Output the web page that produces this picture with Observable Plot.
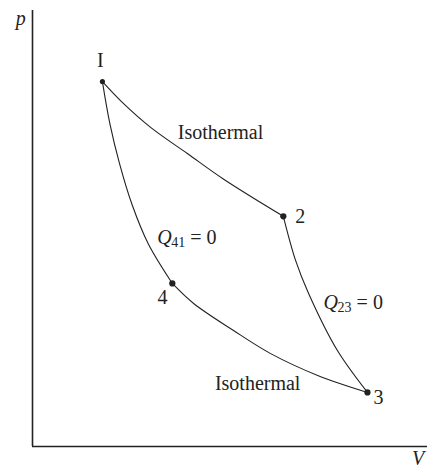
<!DOCTYPE html>
<html>
<head>
<meta charset="utf-8">
<script src="https://cdn.jsdelivr.net/npm/d3@7"></script>
<script src="https://cdn.jsdelivr.net/npm/@observablehq/plot@0.6"></script>
<style>
  html, body { margin: 0; padding: 0; background: #fff; }
</style>
</head>
<body>
<div id="chart"></div>
<script>
// Arbitrary units: V 0..100, p 0..100
const upperIsothermal = [
  {V: 17.7, p: 83.7}, {V: 23.0, p: 78.7}, {V: 29.9, p: 73.2},
  {V: 39.2, p: 67.2}, {V: 48.4, p: 61.3}, {V: 63.5, p: 52.8}
];
const adiabat41 = [
  {V: 17.7, p: 83.7}, {V: 19.6, p: 74.0}, {V: 22.0, p: 65.0},
  {V: 25.2, p: 55.5}, {V: 29.3, p: 46.5}, {V: 35.4, p: 37.4}
];
const adiabat23 = [
  {V: 63.5, p: 52.8}, {V: 66.6, p: 42.7}, {V: 69.9, p: 35.1},
  {V: 77.2, p: 22.0}, {V: 84.8, p: 12.4}
];
const lowerIsothermal = [
  {V: 35.4, p: 37.4}, {V: 40.8, p: 32.8}, {V: 50.9, p: 26.6},
  {V: 60.3, p: 21.3}, {V: 72.2, p: 16.3}, {V: 84.8, p: 12.4}
];
const statePoints = [
  {name: "I", V: 17.7, p: 83.7, r: 1.5},
  {name: "2", V: 63.5, p: 52.8, r: 2.2},
  {name: "3", V: 84.8, p: 12.4, r: 2.2},
  {name: "4", V: 35.4, p: 37.4, r: 2.2}
];
const pointLabels = [
  {text: "I", V: 17.2, p: 88.5},
  {text: "2", V: 67.8, p: 52.8},
  {text: "3", V: 87.6, p: 11.2},
  {text: "4", V: 32.9, p: 34.2}
];
const processLabels = [
  {text: "Isothermal", V: 47.6, p: 72.0},
  {text: "Isothermal", V: 57.0, p: 14.4}
];
// Q_ij = 0 labels: letter, subscript, rest
const heatLabels = [
  {q: "Q", sub: "41", rest: "= 0", V: 31.6, p: 47.9},
  {q: "Q", sub: "23", rest: "= 0", V: 73.7, p: 33.0}
];
const axisLabels = [
  {text: "p", V: -3.0, p: 98.2},
  {text: "V", V: 97.6, p: -2.8}
];

const ink = "#222";
const font = "Liberation Serif, Times New Roman, serif";

const chart = Plot.plot({
  width: 427,
  height: 470,
  marginLeft: 32,
  marginRight: 0,
  marginTop: 10,
  marginBottom: 24,
  x: {domain: [0, 100], axis: null},
  y: {domain: [0, 100], axis: null},
  style: {fontFamily: font, background: "#fff"},
  marks: [
    Plot.ruleX([0], {y1: 0, y2: 100, stroke: ink, strokeWidth: 1.6}),
    Plot.ruleY([0], {x1: 0, x2: 100, stroke: ink, strokeWidth: 1.6}),
    Plot.line(upperIsothermal, {x: "V", y: "p", curve: "catmull-rom", stroke: ink, strokeWidth: 1.1}),
    Plot.line(adiabat41, {x: "V", y: "p", curve: "catmull-rom", stroke: ink, strokeWidth: 1.1}),
    Plot.line(adiabat23, {x: "V", y: "p", curve: "catmull-rom", stroke: ink, strokeWidth: 1.1}),
    Plot.line(lowerIsothermal, {x: "V", y: "p", curve: "catmull-rom", stroke: ink, strokeWidth: 1.1}),
    Plot.dot(statePoints, {x: "V", y: "p", r: "r", fill: ink, stroke: null}),
    Plot.text(pointLabels, {x: "V", y: "p", text: "text", fontSize: 20, fill: ink}),
    Plot.text(processLabels, {x: "V", y: "p", text: "text", fontSize: 20, fill: ink}),
    Plot.text(heatLabels, {x: "V", y: "p", text: "q", fontSize: 20, fontStyle: "italic", textAnchor: "start", fill: ink}),
    Plot.text(heatLabels, {x: "V", y: "p", text: "sub", fontSize: 14, textAnchor: "start", dx: 14, dy: 5, fill: ink}),
    Plot.text(heatLabels, {x: "V", y: "p", text: "rest", fontSize: 20, textAnchor: "start", dx: 33, fill: ink}),
    Plot.text(axisLabels, {x: "V", y: "p", text: "text", fontSize: 20, fontStyle: "italic", fill: ink})
  ]
});
chart.setAttribute("font-family", font);
document.getElementById("chart").appendChild(chart);
</script>
</body>
</html>
